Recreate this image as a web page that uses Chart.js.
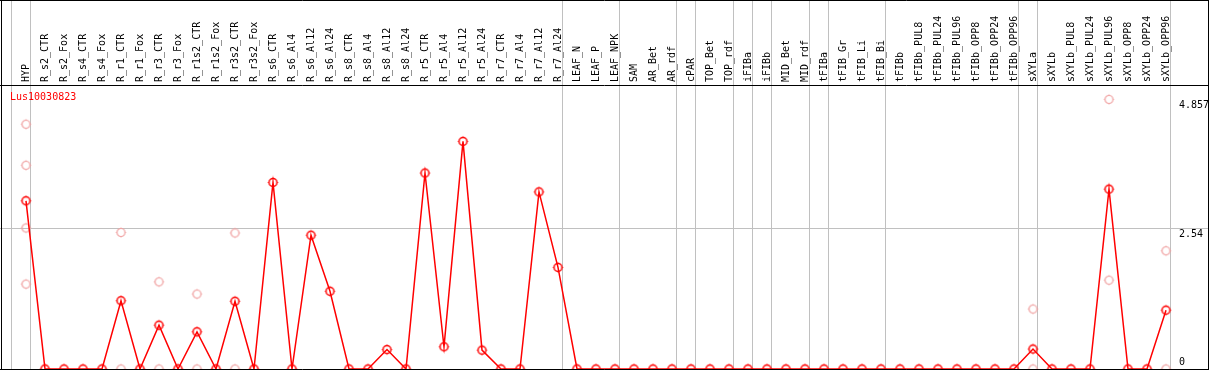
<!DOCTYPE html>
<html>
<head>
<meta charset="utf-8">
<script src="https://cdn.jsdelivr.net/npm/chart.js@4"></script>
<style>
  body { margin: 0; background: #fff; }
  #wrap { width: 1209px; height: 370px; }
</style>
</head>
<body>
<div id="wrap"><canvas id="geneChart" width="1209" height="370"></canvas></div>
<script>
// Dados
const geneName = 'Lus10030823';

const categories = [
    'HYP', 'R_s2_CTR', 'R_s2_Fox', 'R_s4_CTR', 'R_s4_Fox', 'R_r1_CTR', 'R_r1_Fox', 'R_r3_CTR', 'R_r3_Fox',
    'R_r1s2_CTR', 'R_r1s2_Fox', 'R_r3s2_CTR', 'R_r3s2_Fox', 'R_s6_CTR', 'R_s6_Al4', 'R_s6_Al12', 'R_s6_Al24',
    'R_s8_CTR', 'R_s8_Al4', 'R_s8_Al12', 'R_s8_Al24', 'R_r5_CTR', 'R_r5_Al4', 'R_r5_Al12', 'R_r5_Al24',
    'R_r7_CTR', 'R_r7_Al4', 'R_r7_Al12', 'R_r7_Al24', 'LEAF_N', 'LEAF_P', 'LEAF_NPK', 'SAM', 'AR_Bet', 'AR_rdf',
    'cPAR', 'TOP_Bet', 'TOP_rdf', 'iFIBa', 'iFIBb', 'MID_Bet', 'MID_rdf', 'tFIBa', 'tFIB_Gr', 'tFIB_Li', 'tFIB_Bi',
    'tFIBb', 'tFIBb_PUL8', 'tFIBb_PUL24', 'tFIBb_PUL96', 'tFIBb_OPP8', 'tFIBb_OPP24', 'tFIBb_OPP96',
    'sXYLa', 'sXYLb', 'sXYLb_PUL8', 'sXYLb_PUL24', 'sXYLb_PUL96', 'sXYLb_OPP8', 'sXYLb_OPP24', 'sXYLb_OPP96'
];

// média por amostra (linha vermelha)
const meanValues = [
    3.03, 0, 0, 0, 0, 1.23, 0, 0.79, 0, 0.67, 0, 1.22, 0,
    3.36, 0, 2.41, 1.40, 0, 0, 0.35, 0, 3.53, 0.40, 4.10, 0.34, 0, 0, 3.19, 1.83,
    0, 0, 0, 0, 0, 0, 0, 0, 0, 0, 0, 0, 0, 0, 0, 0, 0,
    0, 0, 0, 0, 0, 0, 0,
    0.36, 0, 0, 0, 3.24, 0, 0, 1.06
];

// réplicas visíveis: [índice da amostra, valor]
const replicatePoints = [
    [0, 4.41], [0, 3.67], [0, 2.54], [0, 1.53],
    [5, 2.46], [5, 0], [7, 1.57], [7, 0], [9, 1.35], [9, 0], [11, 2.45], [11, 0],
    [53, 1.08], [53, 0], [57, 4.857], [57, 1.60], [60, 2.13], [60, 0]
];

const yTicks = [0, 2.54, 4.857];
const yMax = 5.116;

// últimas amostras de cada grupo (linhas cinza verticais)
const groupEnds = [-1, 0, 28, 31, 34, 35, 37, 38, 39, 41, 42, 45, 52, 53, 60];

const monoFont = "'DejaVu Sans Mono', 'Liberation Mono', monospace";

// marcador: círculo com pequenas marcas em cruz
function makeMarker(color, width) {
    const c = document.createElement('canvas');
    c.width = 13; c.height = 13;
    const g = c.getContext('2d');
    g.strokeStyle = color;
    g.lineWidth = width;
    g.beginPath();
    g.arc(6.5, 6.5, 4, 0, Math.PI * 2);
    g.stroke();
    g.lineWidth = 1;
    g.beginPath();
    g.moveTo(6.5, 1.5); g.lineTo(6.5, 3);
    g.moveTo(6.5, 10); g.lineTo(6.5, 11.5);
    g.moveTo(1.5, 6.5); g.lineTo(3, 6.5);
    g.moveTo(10, 6.5); g.lineTo(11.5, 6.5);
    g.stroke();
    return c;
}

const mainMarker = makeMarker('#ff0000', 1.5);
const paleMarker = makeMarker('#f0a0a0', 1.2);

const framePlugin = {
    id: 'frame',
    beforeDatasetsDraw(chart) {
        const ctx = chart.ctx;
        const xs = chart.scales.x;
        const ys = chart.scales.y;
        const step = xs.getPixelForValue(1) - xs.getPixelForValue(0);
        ctx.save();
        ctx.strokeStyle = '#c0c0c0';
        ctx.lineWidth = 1;
        groupEnds.forEach(function (i) {
            const px = Math.round(xs.getPixelForValue(0) + i * step + 4) + 0.5;
            ctx.beginPath();
            ctx.moveTo(px, 0);
            ctx.lineTo(px, chart.height);
            ctx.stroke();
        });
        // linha de grade no valor intermediário
        const gy = Math.round(ys.getPixelForValue(yTicks[1])) + 0.5;
        ctx.beginPath();
        ctx.moveTo(0, gy);
        ctx.lineTo(chart.width - 1, gy);
        ctx.stroke();
        ctx.restore();
    },
    afterDraw(chart) {
        const ctx = chart.ctx;
        const area = chart.chartArea;
        const ys = chart.scales.y;
        ctx.save();
        ctx.strokeStyle = '#000';
        ctx.lineWidth = 1;
        ctx.beginPath();
        ctx.moveTo(0, 0.5); ctx.lineTo(chart.width, 0.5);
        ctx.moveTo(0, 85.5); ctx.lineTo(chart.width, 85.5);
        ctx.moveTo(0, 369.5); ctx.lineTo(chart.width, 369.5);
        ctx.moveTo(1.5, 0); ctx.lineTo(1.5, chart.height);
        ctx.moveTo(1208.5, 0); ctx.lineTo(1208.5, chart.height);
        ctx.stroke();

        // rótulos do eixo Y
        ctx.font = '10px ' + monoFont;
        ctx.fillStyle = '#000';
        ctx.textAlign = 'left';
        ctx.textBaseline = 'middle';
        yTicks.forEach(function (v) {
            const py = Math.min(ys.getPixelForValue(v) + 6, area.bottom - 7);
            ctx.fillText(String(v), 1179, py);
        });

        // nome do gene
        ctx.fillStyle = '#ff0000';
        ctx.fillText(geneName, 10, 97);
        ctx.restore();
    }
};

const ctx = document.getElementById('geneChart').getContext('2d');
new Chart(ctx, {
    type: 'line',
    data: {
        labels: categories,
        datasets: [{
            label: geneName,
            data: meanValues,
            borderColor: '#ff0000',
            borderWidth: 1.5,
            pointStyle: mainMarker,
            pointRadius: 5,
            tension: 0,
            clip: false,
            order: 0
        }, {
            label: 'replicas',
            data: replicatePoints.map(function (p) { return { x: categories[p[0]], y: p[1] }; }),
            showLine: false,
            pointStyle: paleMarker,
            pointRadius: 5,
            clip: false,
            order: 1
        }]
    },
    options: {
        responsive: false,
        animation: false,
        devicePixelRatio: 1,
        layout: { autoPadding: false, padding: { left: 16.5, right: 0, top: 0, bottom: 1 } },
        plugins: {
            legend: { display: false },
            tooltip: { enabled: false }
        },
        scales: {
            x: {
                type: 'category',
                position: 'top',
                offset: true,
                grid: { display: false, drawTicks: false },
                border: { display: false },
                ticks: {
                    autoSkip: false,
                    minRotation: 90,
                    maxRotation: 90,
                    padding: 3,
                    labelOffset: 12,
                    color: '#000',
                    font: { family: monoFont, size: 10 }
                },
                afterFit: function (scale) { scale.height = 85; }
            },
            y: {
                position: 'right',
                min: 0,
                max: yMax,
                grid: { display: false },
                border: { display: false },
                ticks: { display: false },
                afterFit: function (scale) {
                    scale.width = 33.5;
                    scale.paddingTop = 0;
                    scale.paddingBottom = 0;
                }
            }
        }
    },
    plugins: [framePlugin]
});
</script>
</body>
</html>
